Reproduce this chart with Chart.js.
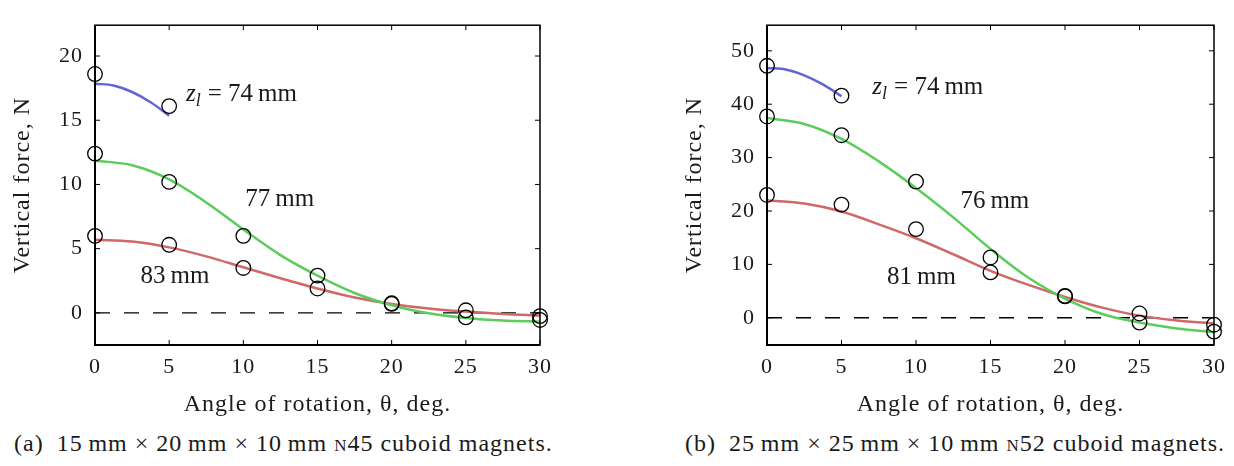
<!DOCTYPE html>
<html>
<head>
<meta charset="utf-8">
<script src="https://cdn.jsdelivr.net/npm/chart.js@4.4.1/dist/chart.umd.min.js"></script>
<style>
  body { margin: 0; background: #fff; width: 1234px; height: 466px; position: relative; overflow: hidden; font-family: "Liberation Serif", serif; color: #1a1a1a; }
  canvas { position: absolute; top: 0; }
  .caption { position: absolute; top: 429px; font-size: 24px; line-height: 28px; white-space: nowrap; letter-spacing: 1px; }
  .sc { font-variant: small-caps; }
</style>
</head>
<body>
<canvas id="chartA" width="560" height="425" style="left:0"></canvas>
<canvas id="chartB" width="562" height="425" style="left:672px"></canvas>
<div class="caption" style="left:14px">(a)&ensp;15&#8201;mm × 20&#8201;mm × 10&#8201;mm <span class="sc">n</span>45 cuboid magnets.</div>
<div class="caption" style="left:685px">(b)&ensp;25&#8201;mm × 25&#8201;mm × 10&#8201;mm <span class="sc">n</span>52 cuboid magnets.</div>
<script>
// angles (deg) of measurements and of the fitted curves
const measAngles = [0, 5, 10, 15, 20, 25, 30];
const measAngles74 = [0, 5];
const fitAngles = [0, 2.5, 5, 7.5, 10, 12.5, 15, 17.5, 20, 22.5, 25, 27.5, 30];
const fitAngles74 = [0, 1.25, 2.5, 3.75, 5];
const xTicks = [0, 5, 10, 15, 20, 25, 30];

// (a) 15 x 20 x 10 mm N45
const a74Meas = [18.6, 16.1];
const a77Meas = [12.4, 10.2, 6.0, 2.9, 0.7, -0.35, -0.55];
const a83Meas = [6.0, 5.3, 3.5, 1.9, 0.75, 0.2, -0.25];
const a74Fit = [17.85, 17.7, 17.2, 16.4, 15.35];
const a77Fit = [11.85, 11.5, 10.4, 8.6, 6.5, 4.5, 2.9, 1.55, 0.6, -0.03, -0.4, -0.6, -0.68];
const a83Fit = [5.7, 5.55, 5.1, 4.4, 3.55, 2.7, 1.9, 1.2, 0.7, 0.34, 0.1, -0.08, -0.2];
const aYTicks = [0, 5, 10, 15, 20];

// (b) 25 x 25 x 10 mm N52
const b74Meas = [47.2, 41.6];
const b76Meas = [37.7, 34.2, 25.5, 11.3, 4.1, -0.9, -2.6];
const b81Meas = [23.0, 21.2, 16.6, 8.5, 4.0, 0.8, -1.3];
const b74Fit = [46.8, 46.5, 45.4, 43.7, 41.5];
const b76Fit = [37.4, 36.3, 33.5, 29.3, 24.3, 18.8, 12.9, 7.6, 3.6, 0.7, -0.9, -2.0, -2.7];
const b81Fit = [22.0, 21.4, 19.9, 17.5, 14.9, 11.9, 8.8, 6.2, 3.9, 1.9, 0.4, -0.5, -1.1];
const bYTicks = [0, 10, 20, 30, 40, 50];

const BLUE = '#6464d2', GREEN = '#5ccc5c', RED = '#d06868';
const FONT = '"Liberation Serif", serif';

function pts(xs, ys) {
  return xs.map((x, i) => ({ x: x, y: ys[i] }));
}

function fitSet(xs, ys, color) {
  return { data: pts(xs, ys), showLine: true, borderColor: color, borderWidth: 2.5,
    pointRadius: 0, tension: 0.35, clip: false };
}

function measSet(xs, ys) {
  return { data: pts(xs, ys), showLine: false, pointRadius: 7.3, pointBorderWidth: 1.3,
    pointBorderColor: '#000', pointBackgroundColor: 'rgba(0,0,0,0)', clip: false };
}

const framePlugin = {
  id: 'frame',
  beforeDraw(chart) {
    chart.ctx.letterSpacing = '1px';
  },
  afterDatasetsDraw(chart, args, opts) {
    const { ctx, chartArea: a, scales: { x, y } } = chart;
    ctx.save();
    ctx.strokeStyle = '#000';
    ctx.lineWidth = 1.5;
    ctx.strokeRect(a.left, a.top, a.right - a.left, a.bottom - a.top);
    ctx.lineWidth = 2;
    ctx.beginPath();
    ctx.moveTo(a.left, a.top);
    ctx.lineTo(a.left, a.bottom);
    ctx.lineTo(a.right, a.bottom);
    ctx.stroke();
    ctx.lineWidth = 1;
    ctx.beginPath();
    x.ticks.forEach(t => {
      const px = x.getPixelForValue(t.value);
      ctx.moveTo(px, a.bottom); ctx.lineTo(px, a.bottom - 5);
      ctx.moveTo(px, a.top); ctx.lineTo(px, a.top + 5);
    });
    y.ticks.forEach(t => {
      const py = y.getPixelForValue(t.value);
      ctx.moveTo(a.left, py); ctx.lineTo(a.left + 5, py);
      ctx.moveTo(a.right, py); ctx.lineTo(a.right - 5, py);
    });
    ctx.stroke();

    // curve labels
    ctx.letterSpacing = '0px';
    ctx.fillStyle = '#1a1a1a';
    ctx.textBaseline = 'alphabetic';
    ctx.textAlign = 'left';
    opts.labels.forEach(l => {
      let px = x.getPixelForValue(l.x);
      const py = y.getPixelForValue(l.y);
      if (l.sub) {
        ctx.font = 'italic 25px ' + FONT;
        ctx.fillText('z', px, py);
        px += ctx.measureText('z').width;
        ctx.font = 'italic 18px ' + FONT;
        ctx.fillText('l', px, py + 5);
        px += ctx.measureText('l').width + 7;
      }
      ctx.font = '25px ' + FONT;
      ctx.fillText(l.text, px, py);
    });
    ctx.restore();
  }
};

function makeChart(id, yMin, yMax, yTicks, fits, meas, labels, padRight) {
  const zeroLine = { data: [{ x: 0, y: 0 }, { x: 30, y: 0 }], showLine: true, borderColor: '#000',
    borderWidth: 1.4, borderDash: [15, 14], pointRadius: 0 };
  return new Chart(document.getElementById(id), {
    type: 'scatter',
    data: { datasets: [...meas, ...fits, zeroLine] },
    options: {
      responsive: false,
      animation: false,
      layout: { padding: { top: 9, right: padRight, left: 0, bottom: 0 } },
      plugins: { legend: { display: false }, tooltip: { enabled: false }, frame: { labels: labels } },
      scales: {
        x: {
          type: 'linear', min: 0, max: 30,
          afterBuildTicks: s => { s.ticks = xTicks.map(v => ({ value: v })); },
          afterFit: s => { s.height = 80; },
          grid: { display: false, drawTicks: false, tickLength: 0 },
          border: { display: false },
          ticks: { color: '#1a1a1a', padding: 9, font: { family: FONT, size: 22, lineHeight: 1.2 } },
          title: { display: true, text: 'Angle of rotation, θ, deg.', color: '#1a1a1a',
            padding: { top: 0, bottom: 6 }, font: { family: FONT, size: 24, lineHeight: 1.2 } }
        },
        y: {
          type: 'linear', min: yMin, max: yMax,
          afterBuildTicks: s => { s.ticks = yTicks.map(v => ({ value: v })); },
          afterFit: s => { s.width = 95; },
          grid: { display: false, drawTicks: false, tickLength: 0 },
          border: { display: false },
          ticks: { color: '#1a1a1a', padding: 12, font: { family: FONT, size: 22, lineHeight: 1.2 } },
          title: { display: true, text: 'Vertical force, N', color: '#1a1a1a',
            padding: { top: 8, bottom: 0 }, font: { family: FONT, size: 24, lineHeight: 1.2 } }
        }
      }
    },
    plugins: [framePlugin]
  });
}

makeChart('chartA', -2.5, 22.4, aYTicks,
  [fitSet(fitAngles74, a74Fit, BLUE), fitSet(fitAngles, a77Fit, GREEN), fitSet(fitAngles, a83Fit, RED)],
  [measSet(measAngles74, a74Meas), measSet(measAngles, a77Meas), measSet(measAngles, a83Meas)],
  [{ x: 6.13, y: 16.5, text: '= 74\u2009mm', sub: true },
   { x: 10.13, y: 8.3, text: '77\u2009mm' },
   { x: 3.07, y: 2.32, text: '83\u2009mm' }],
  15);

makeChart('chartB', -5.1, 54.8, bYTicks,
  [fitSet(fitAngles74, b74Fit, BLUE), fitSet(fitAngles, b76Fit, GREEN), fitSet(fitAngles, b81Fit, RED)],
  [measSet(measAngles74, b74Meas), measSet(measAngles, b76Meas), measSet(measAngles, b81Meas)],
  [{ x: 7.07, y: 42.0, text: '= 74\u2009mm', sub: true },
   { x: 12.98, y: 20.5, text: '76\u2009mm' },
   { x: 8.05, y: 6.35, text: '81\u2009mm' }],
  17);
</script>
</body>
</html>
